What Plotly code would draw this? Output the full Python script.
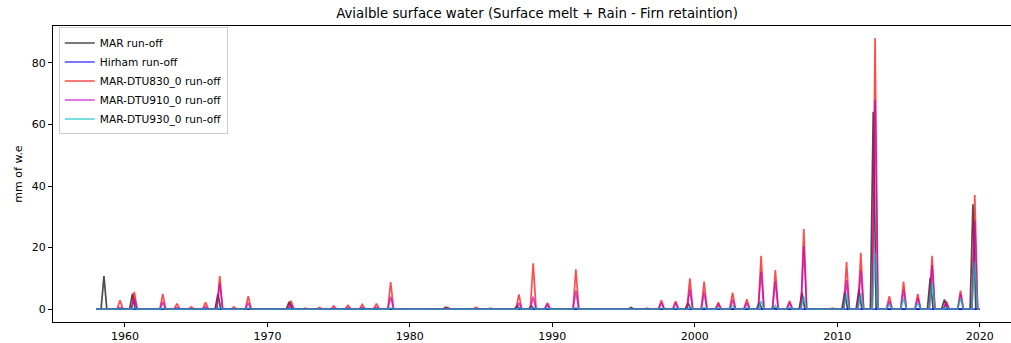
import plotly.graph_objects as go

years = list(range(1958, 2020))

# Annual peak run-off (mm w.e.), one value per year 1958..2019
mar_peak = [10.7, 0, 5.0, 0, 0, 0, 0, 0, 4.9, 0,
            0, 0, 0, 2.4, 0, 0, 0, 0, 0, 0,
            0, 0, 0, 0, 0.6, 0, 0, 0, 0, 1.0,
            1.0, 0, 0, 0, 0, 0, 0, 0.5, 0, 0,
            0, 2.0, 0, 0, 0, 0, 2.0, 0.5, 0, 5.3,
            0, 0, 5.6, 6.5, 64.1, 0, 0, 0, 10.2, 3.1,
            0, 34.1]
hirham_peak = [0] * 62
dtu830_peak = [0, 2.9, 5.6, 0, 4.9, 1.8, 0.7, 2.2, 10.7, 0.7,
               4.2, 0, 0, 2.7, 0.3, 0.5, 1.0, 1.2, 1.5, 1.8,
               8.8, 0, 0, 0, 0.5, 0, 0.6, 0.3, 0, 4.8,
               14.9, 2.0, 0, 12.9, 0, 0, 0, 0.2, 0.3, 2.9,
               2.5, 10.0, 8.9, 2.2, 5.3, 3.2, 17.3, 12.7, 2.7, 26.0,
               0, 0.3, 15.4, 18.3, 88.1, 4.2, 8.9, 4.9, 17.3, 2.5,
               6.0, 37.1]
dtu910_peak = [0, 0.5, 3.5, 0, 2.4, 0.5, 0.2, 0.8, 8.4, 0.2,
               2.0, 0, 0, 1.5, 0, 0, 0.3, 0.4, 0.5, 0.6,
               4.0, 0, 0, 0, 0.2, 0, 0.2, 0, 0, 2.0,
               4.0, 1.5, 0, 6.0, 0, 0, 0, 0, 0, 2.0,
               2.0, 6.4, 5.3, 1.5, 3.0, 2.0, 12.1, 8.9, 2.0, 20.5,
               0, 0, 9.4, 12.4, 68.0, 2.5, 6.2, 3.5, 14.3, 2.0,
               4.9, 28.7]
dtu930_peak = [0, 0, 0.5, 0, 0.3, 0, 0, 0, 0.5, 0,
               0.3, 0, 0, 0.2, 0, 0, 0, 0, 0, 0,
               0.3, 0, 0, 0, 0, 0, 0, 0, 0, 0.3,
               0.5, 0.3, 0, 0.5, 0, 0, 0, 0, 0, 0.3,
               0.3, 0.5, 0.5, 0.3, 1.0, 0.5, 2.6, 1.2, 0.5, 4.0,
               0, 0, 5.1, 5.1, 18.2, 1.5, 3.5, 2.0, 8.9, 0.5,
               3.5, 15.4]

# Melt-season dates (start, peak, end) per model
mar_season = ("04-30", "07-12", "09-24")
dtu_season = ("06-15", "08-28", "11-10")

series_start = "1958-01-01"
series_end = "2019-12-31"


def build(peaks, season):
    xs, ys = [series_start], [0]
    for yr, v in zip(years, peaks):
        xs += [f"{yr}-{season[0]}", f"{yr}-{season[1]}", f"{yr}-{season[2]}"]
        ys += [0, v, 0]
    xs.append(series_end)
    ys.append(0)
    return xs, ys


series = [
    ("MAR run-off", mar_peak, mar_season, "rgba(0,0,0,0.7)"),
    ("Hirham run-off", hirham_peak, dtu_season, "rgba(0,0,255,0.7)"),
    ("MAR-DTU830_0 run-off", dtu830_peak, dtu_season, "rgba(255,0,0,0.7)"),
    ("MAR-DTU910_0 run-off", dtu910_peak, dtu_season, "rgba(191,0,191,0.7)"),
    ("MAR-DTU930_0 run-off", dtu930_peak, dtu_season, "rgba(0,191,191,0.7)"),
]

fig = go.Figure()
for name, peaks, season, color in series:
    xs, ys = build(peaks, season)
    fig.add_trace(go.Scatter(x=xs, y=ys, mode="lines", name=name,
                             line=dict(color=color, width=1.7)))

font = "DejaVu Sans"
fig.update_layout(
    width=1011, height=343,
    margin=dict(l=53, r=0, t=26, b=21),
    plot_bgcolor="white", paper_bgcolor="white",
    font=dict(family=font, size=11, color="black"),
    title=dict(text="Avialble surface water (Surface melt + Rain - Firn retaintion)",
               x=537 / 1011, xanchor="center", y=1 - 13 / 343, yanchor="middle",
               font=dict(size=13.3, family=font, color="black")),
    legend=dict(x=0.006, y=0.995, xanchor="left", yanchor="top",
                bgcolor="rgba(255,255,255,0.8)", bordercolor="#cccccc", borderwidth=1,
                font=dict(size=10.6, family=font), itemwidth=30, tracegroupgap=0),
    xaxis=dict(type="date", range=["1954-12-14", "2022-03-14"],
               tickvals=["1960-01-01", "1970-01-01", "1980-01-01", "1990-01-01",
                         "2000-01-01", "2010-01-01", "2020-01-01"],
               ticktext=["1960", "1970", "1980", "1990", "2000", "2010", "2020"],
               showgrid=False, zeroline=False, showline=True, linecolor="black",
               linewidth=1, mirror=True, ticks="outside", ticklen=4, tickcolor="black"),
    yaxis=dict(range=[-4.2, 92], tickvals=[0, 20, 40, 60, 80],
               showgrid=False, zeroline=False, showline=True, linecolor="black",
               linewidth=1, ticks="outside", ticklen=4, tickcolor="black",
               title=dict(text="mm of w.e", standoff=6, font=dict(size=11, family=font))),
)

fig.write_html("out.html")
